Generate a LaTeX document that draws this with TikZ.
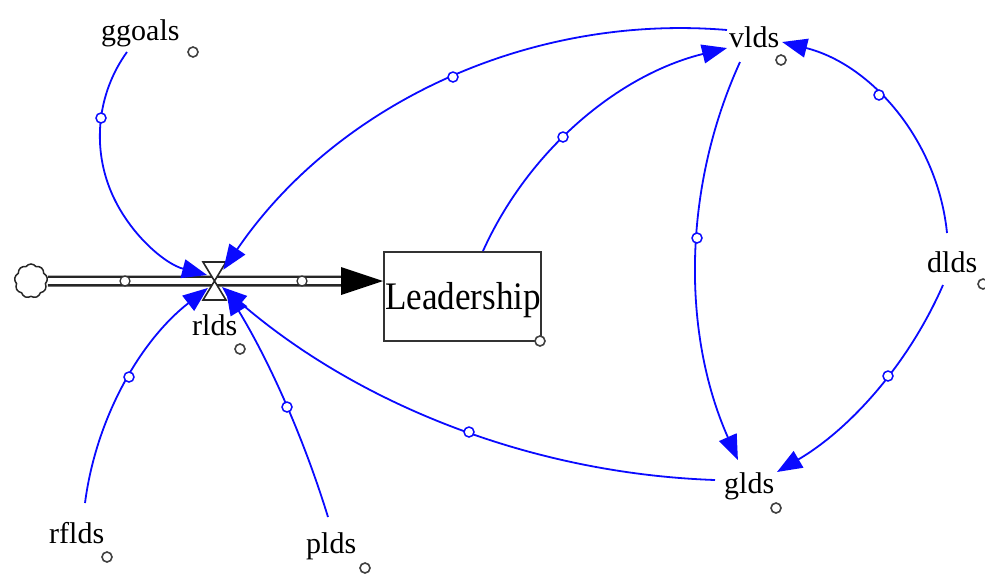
\documentclass[tikz,border=0pt]{standalone}
\usepackage{fontspec}
\setmainfont{Liberation Serif}
\usepackage{graphicx}
\usetikzlibrary{arrows.meta,shapes.symbols}
\definecolor{linkblue}{RGB}{10,10,255}
\begin{document}
\begin{tikzpicture}[x=1pt,y=-1pt,
 lbl/.style={inner sep=0pt,anchor=base west,font=\fontsize{30}{30}\selectfont},
 conn/.style={draw=linkblue,line width=1.8pt,-{Triangle[length=25pt,width=19pt]}},
 handle/.style={circle,draw=linkblue,fill=white,line width=1.5pt,minimum size=10pt,inner sep=0pt},
 varmark/.style={circle,draw=black!75,fill=white,line width=1.6pt,minimum size=10pt,inner sep=0pt},
 pipemark/.style={circle,draw=black!80,fill=white,line width=1.3pt,minimum size=10pt,inner sep=0pt},
 pipe/.style={draw=black!85,line width=2.4pt}]
\useasboundingbox (0,0) rectangle (985,574);

% stock
\node[draw=black!80,line width=1.6pt,minimum width=157pt,minimum height=89pt,anchor=north west,inner sep=0pt] (stock) at (383,251) {};
\node[inner sep=0pt,anchor=base west] (stocklbl) at (385,309) {\scalebox{0.9}[1]{\fontsize{39}{39}\selectfont Leadership}};

% source cloud
\node[cloud,cloud puffs=9,cloud puff arc=110,aspect=1,draw=black!85,line width=1.5pt,minimum width=33pt,minimum height=34pt,inner sep=0pt] (src) at (31,281) {};

% pipe
\coordinate (valve) at (214.5,281);
\coordinate (pipeend) at (341,281);
\draw[pipe] ([yshift=4.3pt]src.east) -- ([yshift=4.3pt]pipeend);
\draw[pipe] ([yshift=-4.3pt]src.east) -- ([yshift=-4.3pt]pipeend);
\fill[black] ([yshift=14pt]pipeend) -- (stock.west |- pipeend) -- ([yshift=-14pt]pipeend) -- cycle;
\node[pipemark] (pm1) at (125,281) {};
\node[pipemark] (pm2) at (302,281) {};
% valve
\draw[black!85,line width=1.6pt,fill=white] (203,262) -- (226,262) -- (203,300) -- (226,300) -- cycle;

% labels
\node[lbl] (ggoals) at (101,40) {ggoals};
\node[lbl] (vlds) at (729,47) {vlds};
\node[lbl] (dlds) at (927,272) {dlds};
\node[lbl] (glds) at (724,493) {glds};
\node[lbl] (rlds) at (192,335) {rlds};
\node[lbl] (rflds) at (49,543) {rflds};
\node[lbl] (plds) at (306,553) {plds};

% connector end points
\coordinate (gg-a) at (127,52);
\coordinate (vl-a) at (727,30);
\coordinate (st-a) at (483,251);
\coordinate (vl-b) at (740,62);
\coordinate (dl-a) at (947,233);
\coordinate (dl-b) at (943,285);
\coordinate (gl-a) at (715,480);
\coordinate (rf-a) at (85,503);
\coordinate (pl-a) at (328,517);

% connectors (circular arcs)
\draw[conn] (gg-a) arc[start angle=-144.2,end angle=-255.3,radius=143.7];
\draw[conn] (vl-a) arc[start angle=-85.2,end angle=-145.7,radius=553.7];
\draw[conn] (st-a) arc[start angle=-155.7,end angle=-103.8,radius=362.7];
\draw[conn] (vl-b) arc[start angle=-155.5,end angle=-203.9,radius=485.5];
\draw[conn] (dl-a) arc[start angle=-5.7,end angle=-75.9,radius=219.4];
\draw[conn] (dl-b) arc[start angle=23.6,end angle=59.6,radius=404.6];
\draw[conn] (gl-a) arc[start angle=92.0,end angle=130.75,radius=798.0];
\draw[conn] (rf-a) arc[start angle=-172.6,end angle=-127.9,radius=325.7];
\draw[conn] (pl-a) arc[start angle=-17.10,end angle=-31.29,radius=1007.6];

% handles
\node[handle] (h1) at (101,118) {};
\node[handle] (h2) at (453,77) {};
\node[handle] (h3) at (563,137) {};
\node[handle] (h4) at (697,238) {};
\node[handle] (h5) at (879,95) {};
\node[handle] (h6) at (888,376) {};
\node[handle] (h7) at (469,432) {};
\node[handle] (h8) at (129,377) {};
\node[handle] (h9) at (287,407) {};

% variable marks
\node[varmark] (m1) at (193,52) {};
\node[varmark] (m2) at (781,60) {};
\node[varmark] (m3) at (983,284) {};
\node[varmark] (m4) at (776,508) {};
\node[varmark] (m5) at (240,349) {};
\node[varmark] (m6) at (107,557) {};
\node[varmark] (m7) at (365,568) {};
\node[varmark] (m8) at (540,341) {};
\end{tikzpicture}
\end{document}
